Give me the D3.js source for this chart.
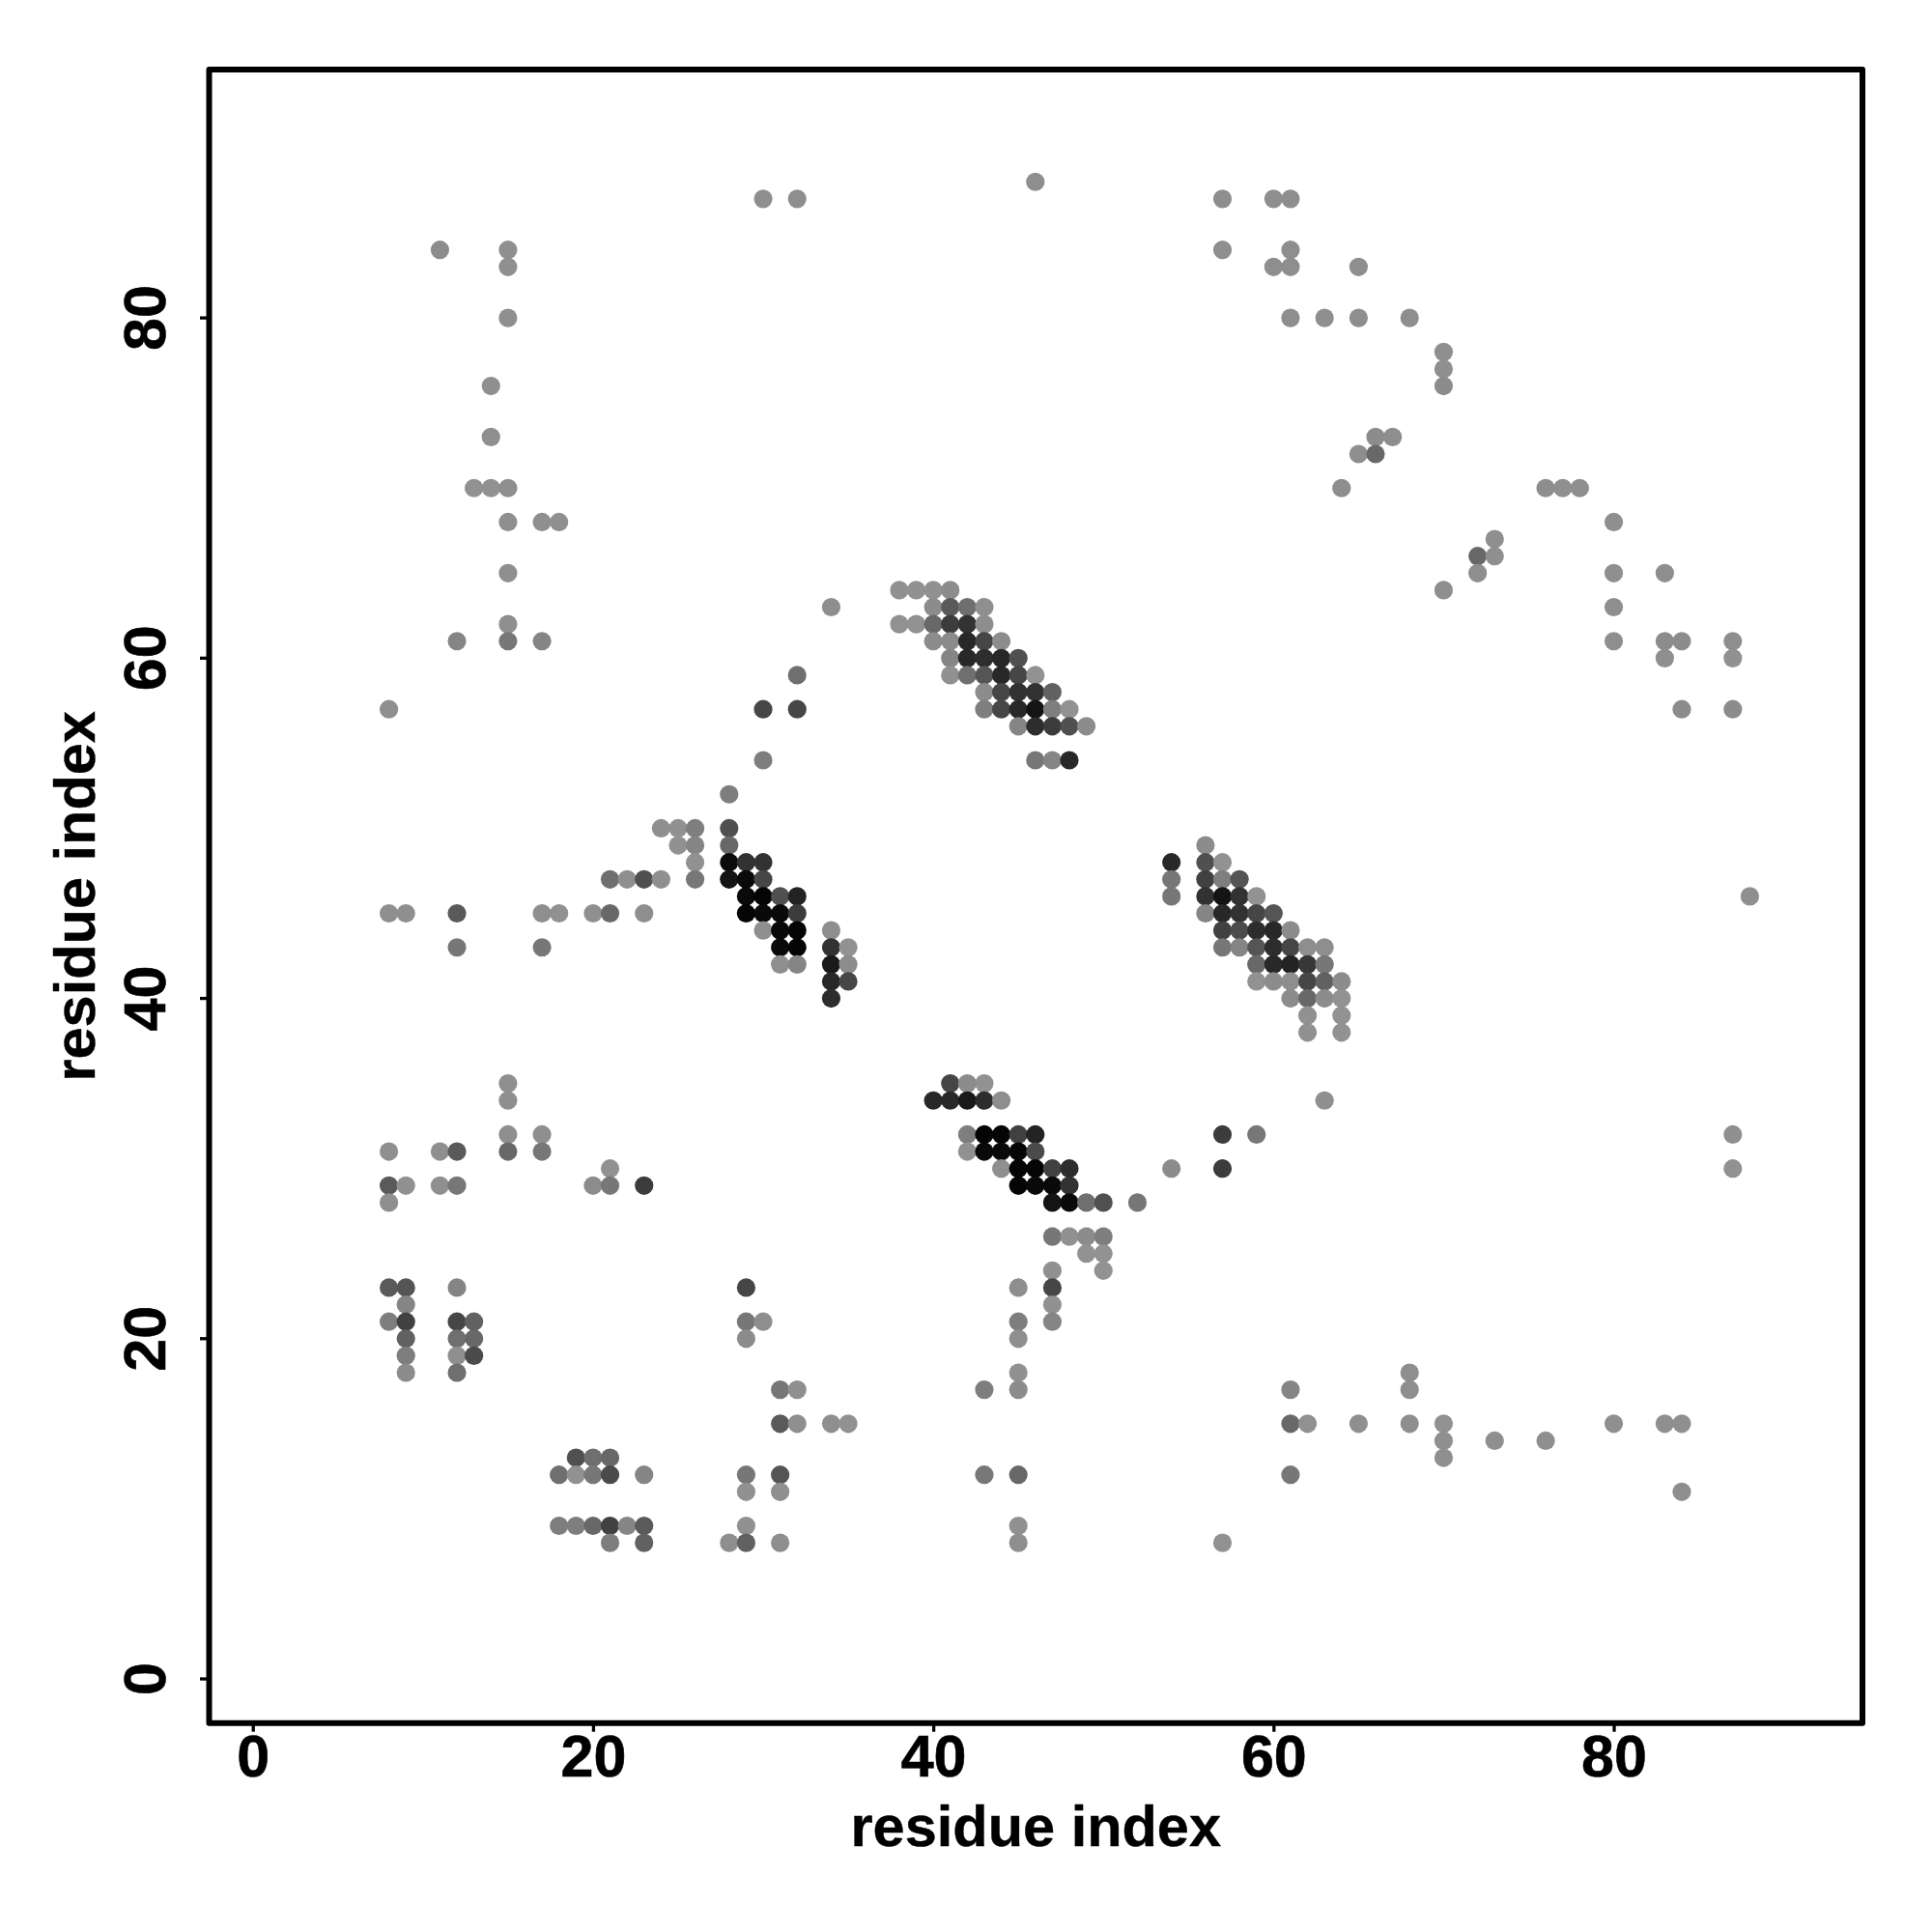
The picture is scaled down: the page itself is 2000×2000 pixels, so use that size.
<!DOCTYPE html>
<html><head><meta charset="utf-8">
<script src="https://d3js.org/d3.v7.min.js"></script>
<style>html,body{margin:0;padding:0;background:#fff}svg{display:block}</style>
</head><body><svg id="c" width="2000" height="2000"></svg>
<script>
const xTicks=[0,20,40,60,80];
const yTicks=[0,20,40,60,80];
const xTitle="residue index", yTitle="residue index";
// [residue i, residue j, contact strength]
const contactsUpper=[
[46,88,20],[30,87,20],[32,87,20],[57,87,20],[60,87,20],[61,87,20],
[11,84,25],[15,84,15],[57,84,20],[61,84,20],
[15,83,15],[60,83,20],[61,83,20],[65,83,20],
[15,80,15],[61,80,20],[63,80,15],[65,80,20],[68,80,20],
[70,78,15],[70,77,15],[14,76,15],[70,76,25],
[14,73,15],[66,73,25],[67,73,20],[65,72,20],[66,72,50],
[13,70,10],[14,70,10],[15,70,15],[64,70,20],[76,70,20],[77,70,15],[78,70,15],
[15,68,15],[17,68,15],[18,68,15],[80,68,15],
[73,67,15],[72,66,50],[73,66,15],[15,65,15],[72,65,20],[80,65,15],[83,65,20],
[70,64,20],[34,63,20],[80,63,15],[15,62,15],
[12,61,30],[15,61,40],[17,61,30],[80,61,20],[83,61,25],[84,61,25],[87,61,20],
[83,60,15],[87,60,10],[32,59,45],[8,57,15],[30,57,80],[32,57,80],[84,57,25],[87,57,25],[30,54,35]
];
const contactsA=[
[38,64,10],[39,64,10],[40,64,10],[41,64,25],
[40,63,25],[41,63,60],[42,63,45],[43,63,15],
[38,62,10],[39,62,10],[40,62,50],[41,62,90],[42,62,100],[43,62,20],
[40,61,25],[41,61,25],[42,61,110],[43,61,80],[44,61,25],
[41,60,30],[42,60,110],[43,60,105],[44,60,110],[45,60,70],
[41,59,10],[42,59,45],[43,59,65],[44,59,110],[45,59,80],[46,59,5],
[43,58,25],[44,58,80],[45,58,100],[46,58,100],[47,58,55],
[43,57,35],[44,57,80],[45,57,110],[46,57,130],[47,57,35],[48,57,5],
[45,56,30],[46,56,105],[47,56,90],[48,56,70],[49,56,25],
[46,54,40],[47,54,30],[48,54,110]
];
const contactsB=[
[28,52,35],[24,50,15],[25,50,10],[26,50,35],[28,50,70],[25,49,10],[26,49,30],[28,49,50],
[26,48,10],[28,48,140],[29,48,100],[30,48,100],
[21,47,45],[22,47,15],[23,47,70],[24,47,15],[26,47,40],[28,47,130],[29,47,140],[30,47,80],
[29,46,140],[30,46,145],[31,46,70],[32,46,115],[88,46,15],
[8,45,15],[9,45,15],[12,45,60],[17,45,20],[18,45,10],[20,45,15],[21,45,50],[23,45,20],[29,45,145],[30,45,140],[31,45,140],[32,45,90],
[30,44,15],[31,44,140],[32,44,145],[34,44,20],
[12,43,40],[17,43,40],[31,43,140],[32,43,145],[34,43,100],[35,43,5],
[31,42,15],[32,42,30],[34,42,125],[35,42,25],
[34,41,110],[35,41,80],[34,40,105]
];
const contactsC=[
[56,49,25],[54,48,110],[56,48,70],[57,48,5],
[54,47,40],[56,47,85],[57,47,35],[58,47,65],
[54,46,40],[56,46,100],[57,46,130],[58,46,100],[59,46,5],
[56,45,30],[57,45,110],[58,45,100],[59,45,80],[60,45,65],
[57,44,85],[58,44,75],[59,44,105],[60,44,110],[61,44,25],
[57,43,40],[58,43,30],[59,43,65],[60,43,105],[61,43,80],[62,43,20],[63,43,20],
[59,42,50],[60,42,110],[61,42,115],[62,42,95],[63,42,40],
[59,41,5],[60,41,25],[61,41,20],[62,41,80],[63,41,55],[64,41,25],
[61,40,25],[62,40,50],[63,40,25],[64,40,5],
[62,39,10],[64,39,5],[62,38,10],[64,38,5]
];
const contactsD=[
[15,35,15],[41,35,80],[42,35,25],[43,35,5],
[15,34,15],[40,34,110],[41,34,110],[42,34,125],[43,34,105],[44,34,20],[63,34,15],
[15,32,15],[17,32,15],[42,32,35],[43,32,145],[44,32,145],[45,32,85],[46,32,115],[57,32,90],[59,32,40],[87,32,15],
[8,31,15],[11,31,15],[12,31,60],[15,31,50],[17,31,40],[42,31,10],[43,31,140],[44,31,140],[45,31,145],[46,31,75],
[21,30,10],[44,30,15],[45,30,145],[46,30,145],[47,30,85],[48,30,105],[54,30,25],[57,30,90],[87,30,10],
[8,29,60],[9,29,10],[11,29,15],[12,29,40],[20,29,25],[21,29,40],[23,29,90],[45,29,145],[46,29,140],[47,29,140],[48,29,100],
[8,28,15],[47,28,130],[48,28,140],[49,28,45],[50,28,70],[52,28,40],
[47,26,40],[48,26,10],[49,26,25],[50,26,35],[49,25,5],[50,25,5],[47,24,10],[50,24,5]
];
const contactsLower=[
[8,23,60],[9,23,65],[12,23,30],[29,23,80],[45,23,20],[47,23,80],[9,22,30],[47,22,10],
[8,21,35],[9,21,85],[12,21,80],[13,21,55],[29,21,40],[30,21,20],[45,21,35],[47,21,30],
[9,20,55],[12,20,45],[13,20,50],[29,20,25],[45,20,15],
[9,19,35],[12,19,15],[13,19,75],[9,18,25],[12,18,45],[45,18,10],[68,18,20],
[31,17,40],[32,17,15],[43,17,35],[45,17,25],[61,17,30],[68,17,20],
[31,15,60],[32,15,15],[34,15,15],[35,15,10],[61,15,50],[62,15,10],[65,15,15],[68,15,20],[70,15,10],[80,15,15],[83,15,15],[84,15,15],
[70,14,15],[73,14,15],[76,14,15],
[19,13,70],[20,13,45],[21,13,50],[70,13,15],
[18,12,45],[19,12,10],[20,12,40],[21,12,75],[23,12,30],[29,12,40],[31,12,65],[43,12,40],[45,12,50],[61,12,40],
[29,11,10],[31,11,15],[84,11,20],
[18,9,35],[19,9,35],[20,9,50],[21,9,85],[22,9,30],[23,9,60],[29,9,10],[45,9,10],
[21,8,35],[23,8,55],[28,8,20],[29,8,55],[31,8,20],[45,8,20],[57,8,10]
];
const contacts=[...contactsUpper,...contactsA,...contactsB,...contactsC,...contactsD,...contactsLower];

const L=216.5,R=1928,T=72,B=1783.7;
const x=d3.scaleLinear().domain([-2.567,94.62]).range([L,R]);
const y=d3.scaleLinear().domain([-2.595,94.6]).range([B,T]);
const shade=d3.scaleLinear().domain([5,25,60,150]).range(["#929292","#8c8c8c","#5a5a5a","#000000"]).clamp(true);
const svg=d3.select("#c");
const font='"Liberation Sans",Arial,sans-serif';
svg.append("rect").attr("width",2000).attr("height",2000).attr("fill","#fff");
svg.append("g").selectAll("circle").data(contacts).join("circle")
 .attr("cx",d=>x(d[0])).attr("cy",d=>y(d[1])).attr("r",9.6).attr("fill",d=>shade(d[2]));
svg.append("rect").attr("x",L).attr("y",T).attr("width",R-L).attr("height",B-T)
 .attr("fill","none").attr("stroke","#000").attr("stroke-width",6).attr("stroke-linejoin","round");
const ax=svg.append("g").attr("transform",`translate(0,${B})`).call(d3.axisBottom(x).tickValues(xTicks).tickSize(9).tickPadding(0));
ax.select(".domain").remove();
ax.selectAll("line").attr("stroke-width",3.3);
ax.selectAll("text").attr("y",55).attr("dy",0).attr("font-family",font).attr("font-weight","bold").attr("font-size",61).attr("fill","#000").attr("stroke","#000").attr("stroke-width",0.6);
const ay=svg.append("g").attr("transform",`translate(${L},0)`).call(d3.axisLeft(y).tickValues(yTicks).tickSize(9.5));
ay.select(".domain").remove();
ay.selectAll("line").attr("stroke-width",3.3);
ay.selectAll("text").attr("dy",0).attr("y",0).attr("x",0)
 .attr("transform","translate(-46,0) rotate(-90)")
 .attr("text-anchor","middle").attr("font-family",font).attr("font-weight","bold").attr("font-size",61).attr("fill","#000").attr("stroke","#000").attr("stroke-width",0.6);
ay.selectAll(".tick").attr("transform",d=>`translate(0,${y(d)})`);
svg.append("text").attr("x",(L+R)/2).attr("y",1910.5).attr("text-anchor","middle").attr("font-family",font).attr("font-weight","bold").attr("font-size",59.5).attr("stroke","#000").attr("stroke-width",0.4).text(xTitle);
svg.append("text").attr("transform",`translate(98,${(T+B)/2}) rotate(-90)`).attr("text-anchor","middle").attr("font-family",font).attr("font-weight","bold").attr("font-size",59.5).attr("stroke","#000").attr("stroke-width",0.4).text(yTitle);
</script></body></html>
